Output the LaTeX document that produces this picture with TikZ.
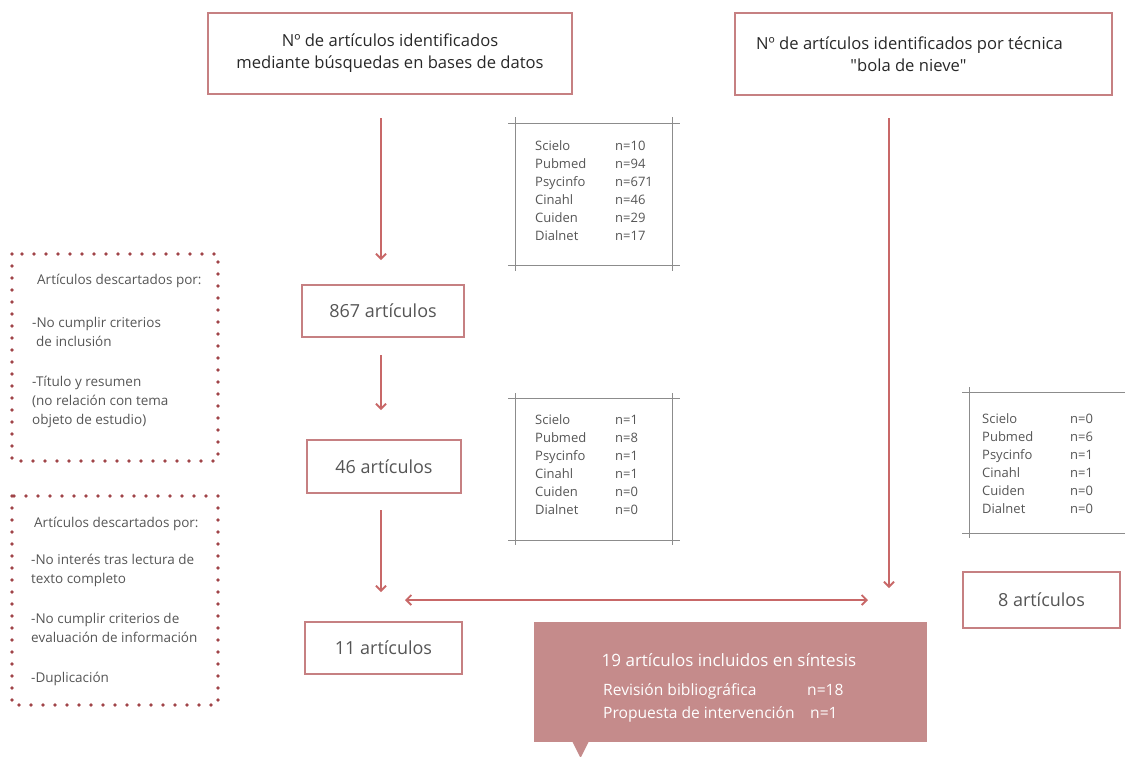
\documentclass[tikz,border=0pt]{standalone}
\usepackage{fontspec}
\setmainfont{Open Sans}
\newfontfamily\plainquote{Open Sans}
\usepackage{xcolor}
\usetikzlibrary{arrows.meta}
\definecolor{boxred}{RGB}{198,128,130}
\definecolor{arrowred}{RGB}{200,104,104}
\definecolor{dotred}{RGB}{160,68,72}
\definecolor{synthfill}{RGB}{197,139,139}
\definecolor{framegray}{RGB}{140,140,140}
\definecolor{txtdark}{RGB}{40,40,40}
\definecolor{txtgrey}{RGB}{85,85,85}

\begin{document}
\begin{tikzpicture}[x=1pt, y=-1pt, >={Straight Barb[length=5pt,width=10pt]},
  box/.style={draw=boxred, line width=1.3pt, align=center, inner sep=0pt, text=txtdark},
  titlebox/.style={box, font=\fontsize{16.6}{22}\selectfont},
  countbox/.style={box, font=\fontsize{18}{20}\selectfont, text=txtgrey},
  synthbox/.style={fill=synthfill, inner sep=0pt},
  dotbox/.style={draw=dotred, line width=3.6pt, line cap=round, dash pattern=on 0pt off 12pt},
  frame/.style={draw=framegray, line width=1pt},
  tab/.style={anchor=base west, inner sep=0pt, font=\fontsize{13}{18}\selectfont, text=txtgrey},
  why/.style={anchor=base west, inner sep=0pt, font=\fontsize{13.5}{19}\selectfont, text=txtgrey},
  edge/.style={->, line width=1.8pt, draw=arrowred}
]
\useasboundingbox (0,0) rectangle (1125,756);

\node[titlebox, minimum width=364pt, minimum height=81pt] (src1) at (390,53.5) {Nº de artículos identificados\\mediante búsquedas en bases de datos};
\node[titlebox, minimum width=377pt, minimum height=82pt] (src2) at (923.5,54) {Nº de artículos identificados por técnica\hspace*{28pt}\\{\plainquote"}bola de nieve{\plainquote"}\hspace*{30pt}};
\node[countbox, minimum width=162pt, minimum height=52pt] (n867) at (383,311) {867 artículos};
\node[countbox, minimum width=154pt, minimum height=53pt] (n46) at (384,466.5) {46 artículos};
\node[countbox, minimum width=157pt, minimum height=52pt] (n11) at (383.5,648) {11 artículos};
\node[countbox, minimum width=157pt, minimum height=56pt] (n8) at (1041.5,600) {8 artículos};

% tablas de resultados por base de datos
\draw[frame] (508,123) -- (680,123) (508,265) -- (680,265) (515,117) -- (515,271) (672,117) -- (672,271);
\node[tab] (db1) at (535,150) {\begin{tabular}[t]{@{}p{80pt}@{}l@{}}Scielo & n=10\\Pubmed & n=94\\Psycinfo & n=671\\Cinahl & n=46\\Cuiden & n=29\\Dialnet & n=17\end{tabular}};
\draw[frame] (508,398) -- (680,398) (508,540) -- (680,540) (515,393) -- (515,545) (672,393) -- (672,545);
\node[tab] (db2) at (535,424) {\begin{tabular}[t]{@{}p{80pt}@{}l@{}}Scielo & n=1\\Pubmed & n=8\\Psycinfo & n=1\\Cinahl & n=1\\Cuiden & n=0\\Dialnet & n=0\end{tabular}};
\draw[frame] (962,392) -- (1125,392) (962,533) -- (1125,533) (969,387) -- (969,538);
\node[tab] (db3) at (982,423) {\begin{tabular}[t]{@{}p{88pt}@{}l@{}}Scielo & n=0\\Pubmed & n=6\\Psycinfo & n=1\\Cinahl & n=1\\Cuiden & n=0\\Dialnet & n=0\end{tabular}};

% motivos de exclusion
\draw[dotbox] (12,254) rectangle (218,461);
\node[why] (excl1) at (32,284) {\begin{tabular}[t]{@{}l@{}}\hspace{5pt}Artículos descartados por:\\[24pt]-No cumplir criterios\\\hspace{4pt}de inclusión\\[21pt]-Título y resumen\\(no relación con tema\\objeto de estudio)\end{tabular}};
\draw[dotbox] (12,496) rectangle (218,705);
\node[why] (excl2) at (31,527) {\begin{tabular}[t]{@{}l@{}}\hspace{3pt}Artículos descartados por:\\[18pt]-No interés tras lectura de\\texto completo\\[21pt]-No cumplir criterios de\\evaluación de información\\[21pt]-Duplicación\end{tabular}};

% sintesis final
\node[synthbox, minimum width=393pt, minimum height=120pt] (synth) at (730.5,682) {};
\fill[synthfill] (572,741) -- (580.5,758) -- (589,741) -- cycle;
\node[inner sep=0pt, text=white, font=\fontsize{17}{20}\selectfont] (synthtitle) at (729,660) {19 artículos incluidos en síntesis};
\node[anchor=base west, inner sep=0pt, text=white, font=\fontsize{15.6}{23}\selectfont] (synthrows) at (603,695) {\begin{tabular}[t]{@{}p{204pt}@{}l@{}}Revisión bibliográfica & n=18\\Propuesta de intervención & \hspace{3pt}n=1\end{tabular}};

\coordinate (a1s) at (381,118);
\coordinate (a1e) at (381,260);
\coordinate (a2s) at (381,355);
\coordinate (a2e) at (381,410);
\coordinate (a3s) at (381,510);
\coordinate (a3e) at (381,592);
\coordinate (a4s) at (889,118);
\coordinate (a4e) at (889,588);
\coordinate (jl) at (405,600);
\coordinate (jr) at (868,600);
\draw[edge] (a1s) -- (a1e);
\draw[edge] (a2s) -- (a2e);
\draw[edge] (a3s) -- (a3e);
\draw[edge] (a4s) -- (a4e);
\draw[edge, <->] (jl) -- (jr);
\end{tikzpicture}
\end{document}
